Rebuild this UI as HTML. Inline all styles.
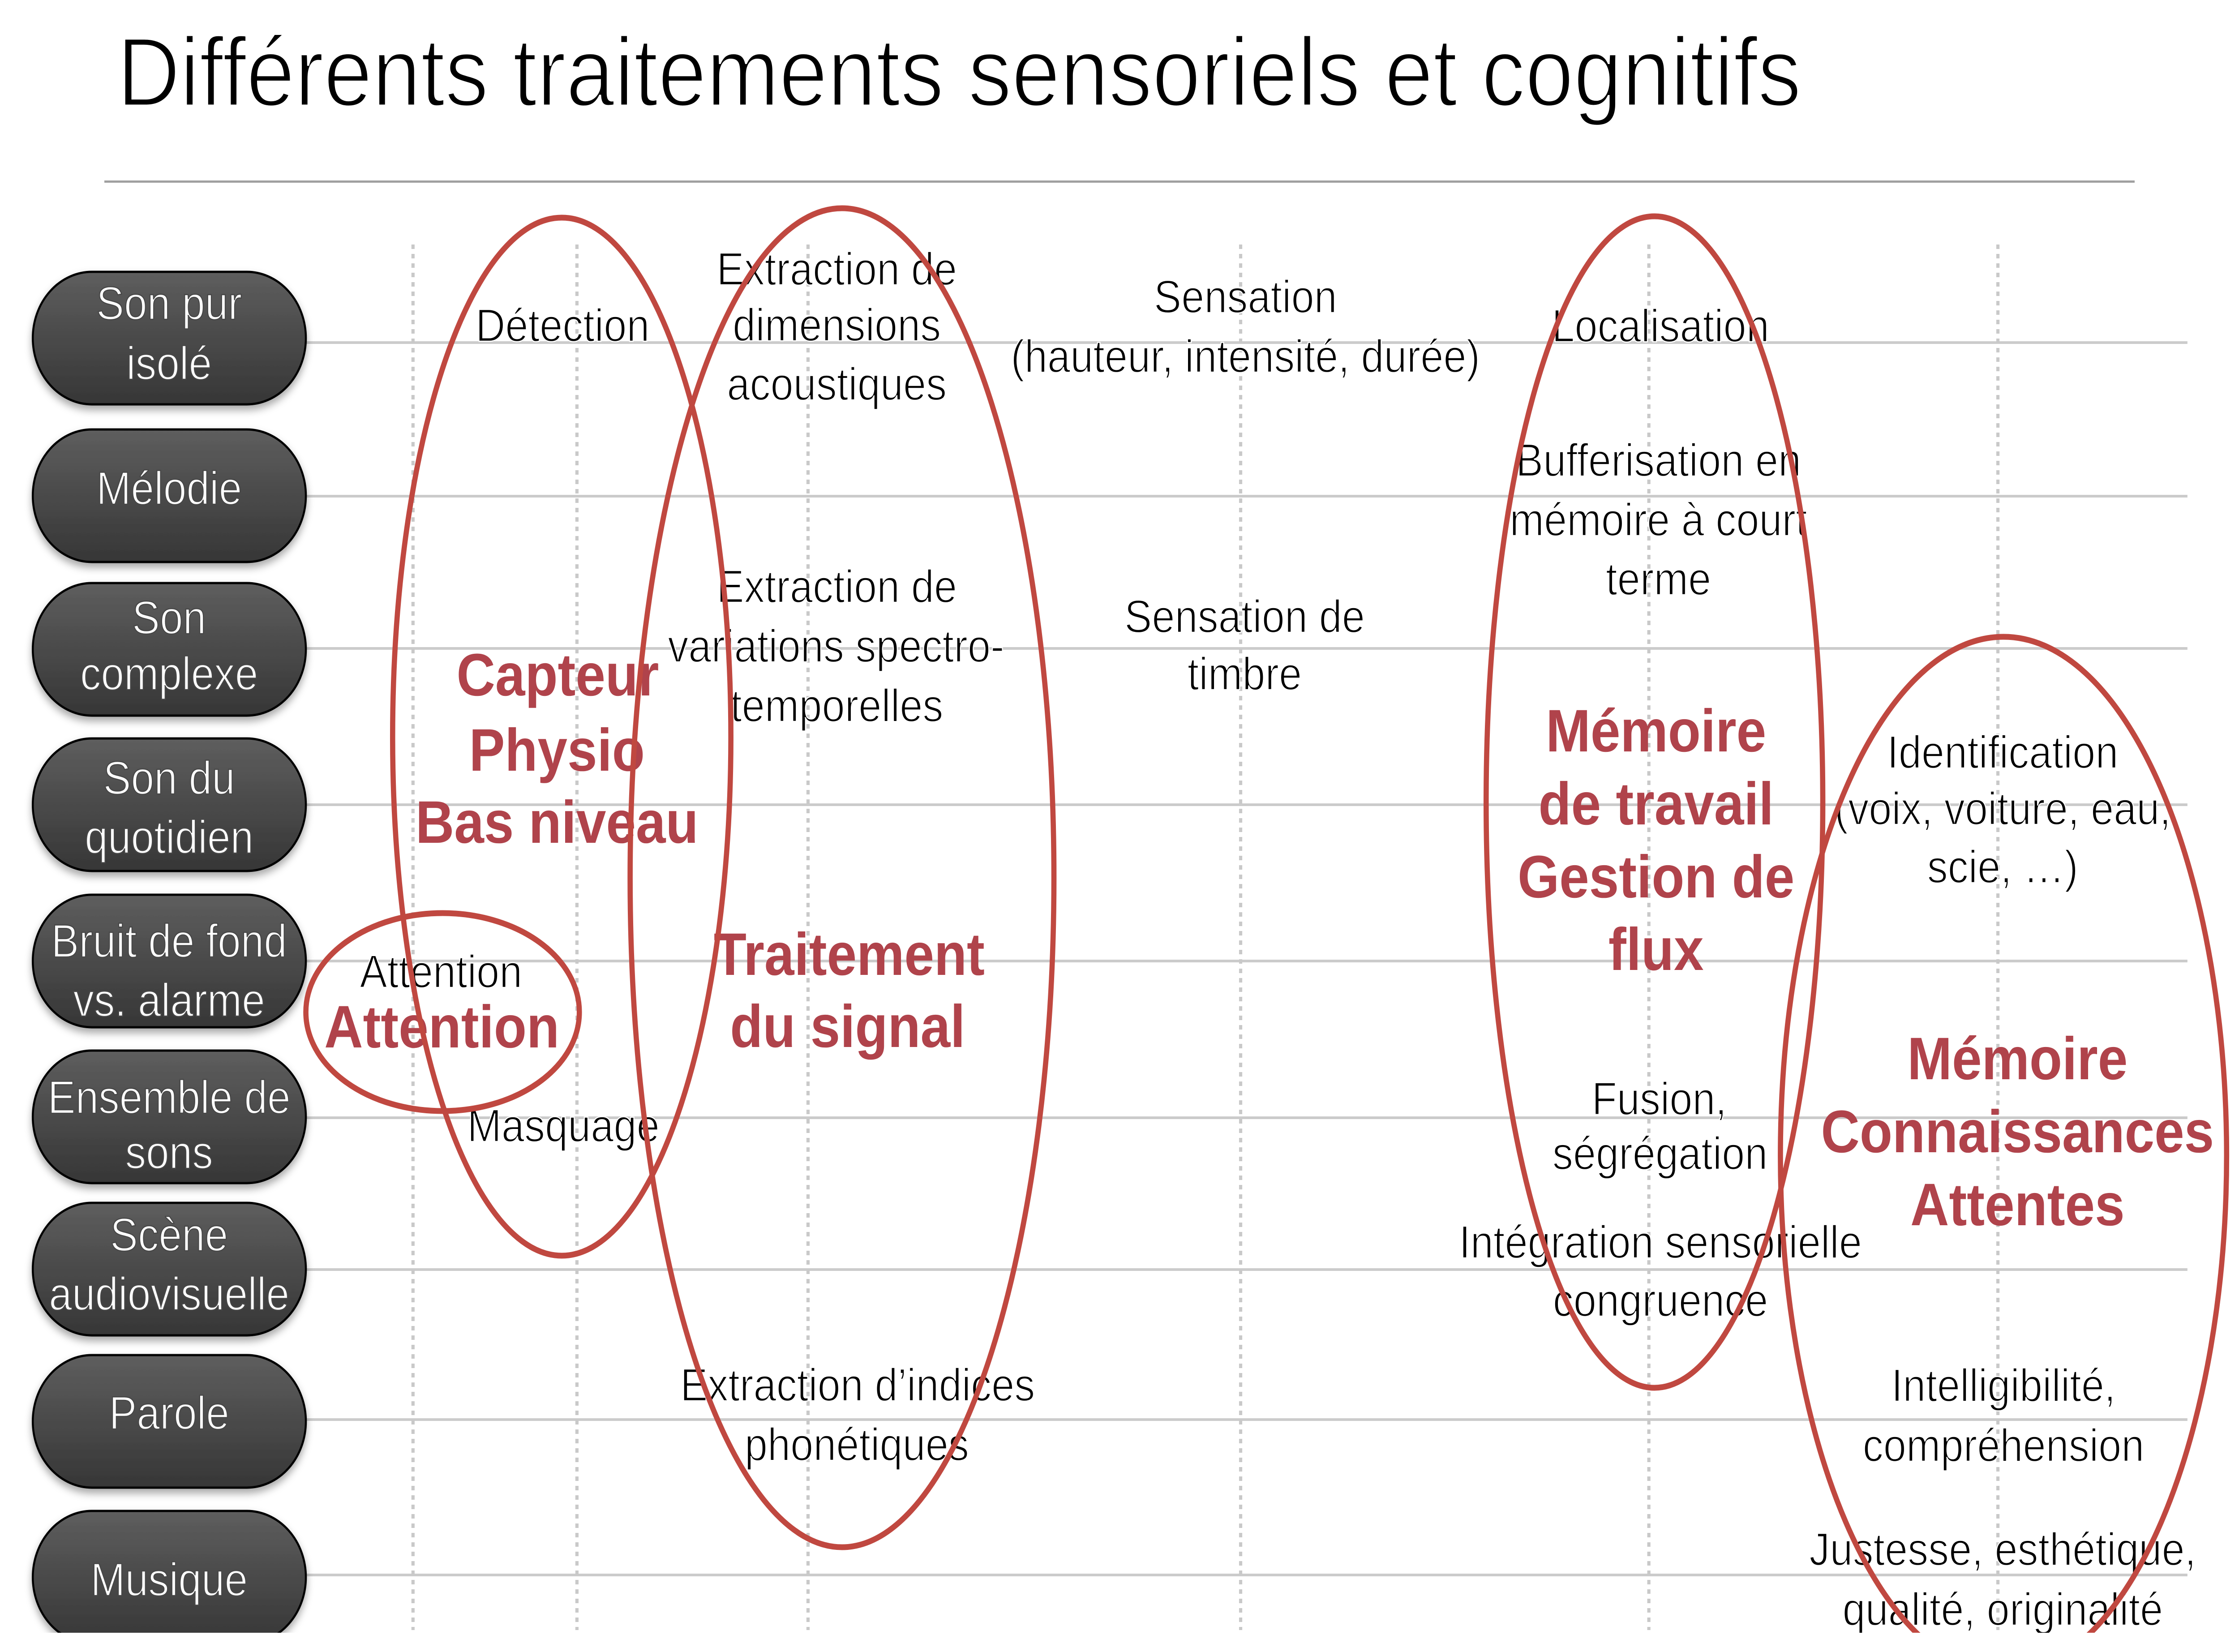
<!DOCTYPE html>
<html><head><meta charset="utf-8">
<style>
html,body{margin:0;padding:0;background:#fff;width:100%;height:100%;overflow:hidden;}
svg{display:block;width:100vw;height:100vh;}
text{font-family:"Liberation Sans",Arial,Helvetica,sans-serif;}
.n{font-size:103px;fill:#000;text-anchor:middle;stroke:#fff;stroke-width:2.5px;}
.b{font-size:134px;fill:#b0434b;font-weight:bold;text-anchor:middle;}
.p{font-size:104px;fill:#fff;text-anchor:middle;stroke:#474747;stroke-width:2.5px;}
.t{font-size:218px;fill:#000;stroke:#fff;stroke-width:5px;}
</style></head><body>
<svg viewBox="0 0 5600 3689" preserveAspectRatio="none" xmlns="http://www.w3.org/2000/svg">
<defs>
<linearGradient id="pg" x1="0" y1="0" x2="0" y2="1"><stop offset="0" stop-color="#5e5e5e"/><stop offset="1" stop-color="#363636"/></linearGradient>
<filter id="sh" x="-10%" y="-20%" width="120%" height="150%"><feDropShadow dx="0" dy="10" stdDeviation="9" flood-color="#000" flood-opacity="0.35"/></filter>
</defs>
<rect width="5600" height="3689" fill="#fff"/>

<text class="t" x="293" y="236">Différents traitements sensoriels et cognitifs</text>
<rect x="261" y="403" width="5078" height="5" fill="#a0a0a0"/>

<g stroke="#cbcbcb" stroke-width="6">
<line x1="760" y1="765" x2="5471" y2="765"/>
<line x1="760" y1="1108" x2="5471" y2="1108"/>
<line x1="760" y1="1448" x2="5471" y2="1448"/>
<line x1="760" y1="1797" x2="5471" y2="1797"/>
<line x1="760" y1="2146" x2="5471" y2="2146"/>
<line x1="760" y1="2496" x2="5471" y2="2496"/>
<line x1="760" y1="2835" x2="5471" y2="2835"/>
<line x1="760" y1="3170" x2="5471" y2="3170"/>
<line x1="760" y1="3517" x2="5471" y2="3517"/>
</g>

<g stroke="#c9c9c9" stroke-width="8" stroke-dasharray="10 11">
<line x1="1033" y1="546" x2="1033" y2="3640"/>
<line x1="1443" y1="546" x2="1443" y2="3640"/>
<line x1="2021" y1="546" x2="2021" y2="3640"/>
<line x1="3103" y1="546" x2="3103" y2="3640"/>
<line x1="4124" y1="546" x2="4124" y2="3640"/>
<line x1="4997" y1="546" x2="4997" y2="3640"/>
</g>

<g filter="url(#sh)" fill="url(#pg)" stroke="#000" stroke-width="5">
<rect x="82" y="607" width="683" height="296" rx="148"/>
<rect x="82" y="959" width="683" height="296" rx="148"/>
<rect x="82" y="1302" width="683" height="296" rx="148"/>
<rect x="82" y="1649" width="683" height="296" rx="148"/>
<rect x="82" y="1998" width="683" height="296" rx="148"/>
<rect x="82" y="2346" width="683" height="296" rx="148"/>
<rect x="82" y="2686" width="683" height="296" rx="148"/>
<rect x="82" y="3026" width="683" height="296" rx="148"/>
<rect x="82" y="3374" width="683" height="296" rx="148"/>
</g>

<g>
<text class="p" x="423" y="713">Son pur</text>
<text class="p" x="423" y="847">isolé</text>
<text class="p" x="423" y="1126">Mélodie</text>
<text class="p" x="423" y="1415">Son</text>
<text class="p" x="423" y="1540">complexe</text>
<text class="p" x="423" y="1773">Son du</text>
<text class="p" x="423" y="1905">quotidien</text>
<text class="p" x="423" y="2137">Bruit de fond</text>
<text class="p" x="423" y="2269">vs. alarme</text>
<text class="p" x="423" y="2486">Ensemble de</text>
<text class="p" x="423" y="2609">sons</text>
<text class="p" x="423" y="2793">Scène</text>
<text class="p" x="423" y="2925">audiovisuelle</text>
<text class="p" x="423" y="3191">Parole</text>
<text class="p" x="423" y="3563">Musique</text>
</g>

<g>
<text class="n" x="1407" y="762">Détection</text>
<text class="n" x="2093" y="636">Extraction de</text>
<text class="n" x="2093" y="761">dimensions</text>
<text class="n" x="2093" y="893">acoustiques</text>
<text class="n" x="3115" y="698">Sensation</text>
<text class="n" x="3115" y="831">(hauteur, intensité, durée)</text>
<text class="n" x="4153" y="763">Localisation</text>
<text class="n" x="4148" y="1063">Bufferisation en</text>
<text class="n" x="4148" y="1196">mémoire à court</text>
<text class="n" x="4148" y="1328">terme</text>
<text class="n" x="2093" y="1345">Extraction de</text>
<text class="n" x="2091" y="1478">variations spectro-</text>
<text class="n" x="2093" y="1611">temporelles</text>
<text class="n" x="3113" y="1412">Sensation de</text>
<text class="n" x="3113" y="1540">timbre</text>
<text class="n" x="5009" y="1715">Identification</text>
<text class="n" x="5009" y="1841">(voix, voiture, eau,</text>
<text class="n" x="5009" y="1971">scie, …)</text>
<text class="n" x="1103" y="2205">Attention</text>
<text class="n" x="1409" y="2549">Masquage</text>
<text class="n" x="4150" y="2489">Fusion,</text>
<text class="n" x="4152" y="2611">ségrégation</text>
<text class="n" x="4153" y="2809">Intégration sensorielle</text>
<text class="n" x="4153" y="2939">congruence</text>
<text class="n" x="2145" y="3128">Extraction d’indices</text>
<text class="n" x="2143" y="3261">phonétiques</text>
<text class="n" x="5011" y="3129">Intelligibilité,</text>
<text class="n" x="5011" y="3263">compréhension</text>
<text class="n" x="5009" y="3495">Justesse, esthétique,</text>
<text class="n" x="5009" y="3629">qualité, originalité</text>
</g>

<g>
<text class="b" x="1395" y="1553">Capteur</text>
<text class="b" x="1393" y="1721">Physio</text>
<text class="b" x="1393" y="1882">Bas niveau</text>
<text class="b" x="4142" y="1678">Mémoire</text>
<text class="b" x="4142" y="1841">de travail</text>
<text class="b" x="4142" y="2004">Gestion de</text>
<text class="b" x="4142" y="2166">flux</text>
<text class="b" x="2124" y="2177">Traitement</text>
<text class="b" x="2120" y="2338">du signal</text>
<text class="b" x="1105" y="2339">Attention</text>
<text class="b" x="5046" y="2410">Mémoire</text>
<text class="b" x="5046" y="2573">Connaissances</text>
<text class="b" x="5046" y="2736">Attentes</text>
</g>

<g fill="none" stroke="#c04840" stroke-width="13">
<ellipse cx="1405" cy="1645" rx="423" ry="1159"/>
<ellipse cx="2106" cy="1960" rx="530" ry="1495"/>
<ellipse cx="4138" cy="1791" rx="421" ry="1308"/>
<ellipse cx="5011" cy="2580" rx="558" ry="1158"/>
<ellipse cx="1107" cy="2260" rx="342" ry="221"/>
</g>

<rect x="0" y="3646" width="5600" height="43" fill="#fff"/>
</svg>
</body></html>
